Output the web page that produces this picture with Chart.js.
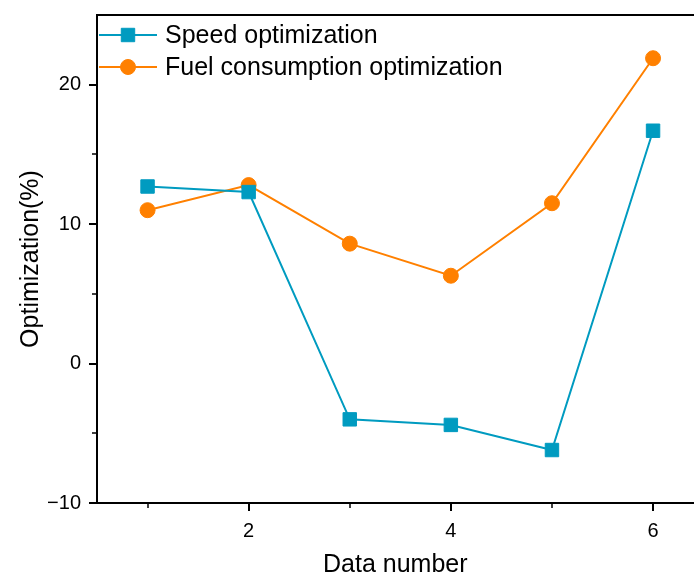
<!DOCTYPE html>
<html lang="en">
<head>
    <meta charset="UTF-8">
    <title>Optimization by data number</title>
    <style>
        html, body { margin: 0; padding: 0; background: #fff; overflow: hidden; }
        #optChart { display: block; }
    </style>
</head>
<body>
    <canvas id="optChart" width="704" height="580"></canvas>

    <script src="https://cdn.jsdelivr.net/npm/chart.js"></script>
    <script>
        // Values per data number
        const dataNumbers = [1, 2, 3, 4, 5, 6];
        const speedOpt = [12.7, 12.3, -4.0, -4.4, -6.2, 16.7];
        const fuelOpt = [11.0, 12.8, 8.6, 6.3, 11.5, 21.9];

        // Labelled ticks and the unlabelled minor ones in between
        const xTickValues = [2, 4, 6];
        const xMinorTicks = [1, 3, 5];
        const yTickValues = [-10, 0, 10, 20];
        const yMinorTicks = [-5, 5, 15];

        const speedColor = 'rgb(0, 155, 192)';
        const fuelColor = 'rgb(255, 128, 0)';
        const fontFamily = "'Liberation Sans', Arial, sans-serif";

        // keep the plot box where the layout puts it, no extra room for edge labels
        const noEdgePadding = scale => {
            scale.paddingTop = 0;
            scale.paddingBottom = 0;
            scale.paddingLeft = 0;
            scale.paddingRight = 0;
        };

        // Frame on top, minor ticks, and the legend with line + marker samples
        const framePlugin = {
            id: 'frame',
            afterDraw(chart) {
                const { ctx, chartArea } = chart;
                const xs = chart.scales.x, ys = chart.scales.y;
                ctx.save();
                ctx.strokeStyle = '#000';
                ctx.lineWidth = 2;
                ctx.beginPath();
                ctx.moveTo(chartArea.left - 1, chartArea.top);
                ctx.lineTo(chartArea.right + 1, chartArea.top);
                ctx.stroke();

                ctx.lineWidth = 1.5;
                ctx.beginPath();
                xMinorTicks.forEach(v => {
                    const px = Math.round(xs.getPixelForValue(v));
                    ctx.moveTo(px, chartArea.bottom);
                    ctx.lineTo(px, chartArea.bottom + 5);
                });
                yMinorTicks.forEach(v => {
                    const py = Math.round(ys.getPixelForValue(v));
                    ctx.moveTo(chartArea.left, py);
                    ctx.lineTo(chartArea.left - 5, py);
                });
                ctx.stroke();

                // legend
                ctx.font = '25px ' + fontFamily;
                ctx.textBaseline = 'middle';
                chart.data.datasets.forEach((ds, i) => {
                    const y = chartArea.top + 20 + i * 32;
                    const x0 = chartArea.left + 2;
                    ctx.strokeStyle = ds.borderColor;
                    ctx.lineWidth = 2;
                    ctx.beginPath();
                    ctx.moveTo(x0, y);
                    ctx.lineTo(x0 + 58, y);
                    ctx.stroke();
                    ctx.fillStyle = ds.pointBackgroundColor;
                    ctx.strokeStyle = ds.pointBackgroundColor;
                    ctx.lineWidth = 1;
                    Chart.helpers.drawPoint(ctx, {
                        pointStyle: ds.pointStyle,
                        radius: ds.pointRadius,
                        rotation: 0,
                        borderWidth: 1
                    }, x0 + 29, y);
                    ctx.fillStyle = '#000';
                    ctx.fillText(ds.label, x0 + 66, y + 1);
                });
                ctx.restore();
            }
        };

        const ctx = document.getElementById('optChart').getContext('2d');
        const optChart = new Chart(ctx, {
            type: 'line',
            data: {
                labels: dataNumbers,
                datasets: [
                    {
                        label: 'Speed optimization',
                        data: dataNumbers.map((n, i) => ({ x: n, y: speedOpt[i] })),
                        borderColor: speedColor,
                        borderWidth: 2,
                        pointStyle: 'rect',
                        pointRadius: 9.5,
                        pointBackgroundColor: speedColor,
                        pointBorderColor: speedColor,
                        pointBorderWidth: 1,
                        tension: 0
                    },
                    {
                        label: 'Fuel consumption optimization',
                        data: dataNumbers.map((n, i) => ({ x: n, y: fuelOpt[i] })),
                        borderColor: fuelColor,
                        borderWidth: 2,
                        pointStyle: 'circle',
                        pointRadius: 7.5,
                        pointBackgroundColor: fuelColor,
                        pointBorderColor: fuelColor,
                        pointBorderWidth: 1,
                        tension: 0
                    }
                ]
            },
            options: {
                responsive: false,
                animation: false,
                devicePixelRatio: 1,
                layout: { padding: { top: 15, right: 0, left: 0, bottom: 0 } },
                plugins: {
                    legend: { display: false },
                    tooltip: { enabled: false }
                },
                scales: {
                    x: {
                        type: 'linear',
                        min: 0.5,
                        max: 6.4,
                        afterBuildTicks: scale => { scale.ticks = xTickValues.map(v => ({ value: v })); },
                        afterFit: scale => { scale.height = 77; noEdgePadding(scale); },
                        border: { display: true, color: '#000', width: 2 },
                        grid: { drawOnChartArea: false, color: '#000', lineWidth: 2, tickLength: 8 },
                        ticks: {
                            color: '#000',
                            padding: 8,
                            maxRotation: 0,
                            font: { family: fontFamily, size: 20 }
                        },
                        title: {
                            display: true,
                            text: 'Data number',
                            color: '#000',
                            padding: { top: 13, bottom: 0 },
                            font: { family: fontFamily, size: 25 }
                        }
                    },
                    y: {
                        type: 'linear',
                        min: -10,
                        max: 25,
                        afterBuildTicks: scale => { scale.ticks = yTickValues.map(v => ({ value: v })); },
                        afterFit: scale => { scale.width = 97; noEdgePadding(scale); },
                        border: { display: true, color: '#000', width: 2 },
                        grid: { drawOnChartArea: false, color: '#000', lineWidth: 2, tickLength: 8 },
                        ticks: {
                            color: '#000',
                            padding: 8,
                            font: { family: fontFamily, size: 20 },
                            callback: v => String(v).replace('-', '\u2212')
                        },
                        title: {
                            display: true,
                            text: 'Optimization(%)',
                            color: '#000',
                            padding: { top: 16, bottom: 0 },
                            font: { family: fontFamily, size: 25 }
                        }
                    }
                }
            },
            plugins: [framePlugin]
        });
    </script>
</body>
</html>
